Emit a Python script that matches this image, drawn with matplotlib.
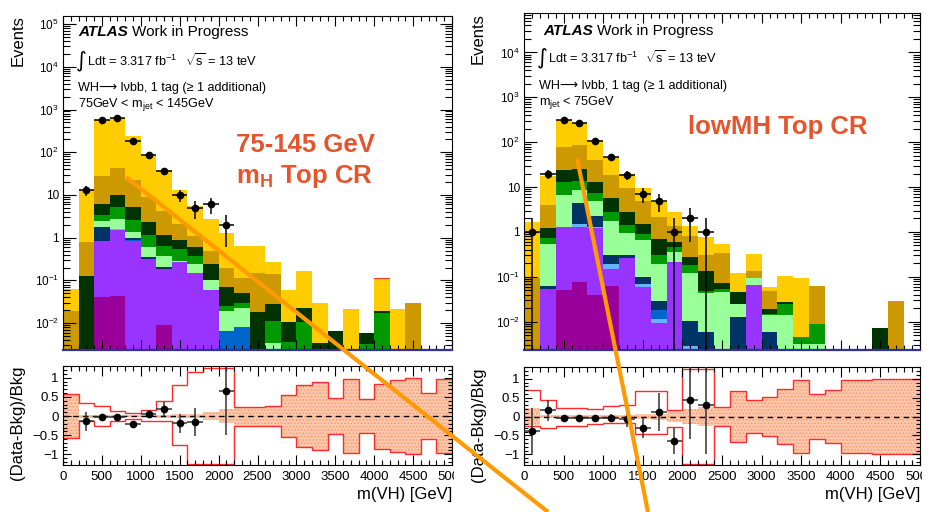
import numpy as np
import matplotlib
matplotlib.use("Agg")
import matplotlib.pyplot as plt
from matplotlib.lines import Line2D
from matplotlib.ticker import FixedLocator, FixedFormatter, LogLocator, MultipleLocator, NullFormatter
from matplotlib.transforms import Bbox, TransformedBbox

plt.rcParams['font.family'] = ['Liberation Sans', 'DejaVu Sans']
plt.rcParams['mathtext.fontset'] = 'custom'
plt.rcParams['mathtext.rm'] = 'Liberation Sans'
plt.rcParams['mathtext.it'] = 'Liberation Sans:italic'
plt.rcParams['mathtext.bf'] = 'Liberation Sans:bold'
plt.rcParams['mathtext.default'] = 'regular'
plt.rcParams['hatch.linewidth'] = 0.6

W, H = 932, 512

edges = np.arange(0, 5001, 200)
centers = edges[:-1] + 100

# stack order, bottom -> top
colors = ['#990099', '#9933ff', '#66b3ff', '#0066cc', '#003366', '#99ff99',
          '#009900', '#003300', '#cc9900', '#ffcc00', '#ff3333']

# ---- left: 75GeV < mjet < 145GeV ----
L_mag = [0, 0, 0.041, 0.043, 0, 0, 0.009, 0, 0, 0, 0, 0, 0, 0, 0, 0, 0, 0, 0, 0, 0, 0, 0, 0, 0]
L_pur = [0, 0, 0.80, 1.48, 0.84, 0.32, 0.171, 0.27, 0.15, 0.06, 0, 0, 0, 0, 0, 0, 0, 0, 0, 0, 0, 0, 0, 0, 0]
L_lblu = [0, 0, 0, 0.04, 0, 0, 0, 0, 0, 0, 0, 0, 0, 0, 0, 0, 0, 0, 0, 0, 0, 0, 0, 0, 0]
L_blue = [0, 0, 0, 0, 0.06, 0, 0, 0, 0, 0, 0.0066, 0.0079, 0, 0, 0, 0, 0, 0, 0, 0, 0, 0, 0, 0, 0]
L_navy = [0, 0, 0.95, 0.04, 0.1, 0.03, 0.03, 0, 0, 0, 0, 0, 0, 0, 0, 0, 0, 0, 0, 0, 0, 0, 0, 0, 0]
L_lgrn = [0, 0, 0.71, 1.1, 0.37, 0.26, 0.16, 0.02, 0.09, 0.04, 0.0124, 0.0141, 0, 0.0035, 0, 0, 0, 0, 0, 0, 0, 0, 0, 0, 0]
L_grn = [0, 0, 0.9, 2.4, 1.2, 0.53, 0.26, 0.26, 0.13, 0, 0.006, 0.008, 0, 0.0078, 0.0037, 0.0107, 0, 0, 0, 0.0033, 0.0169, 0, 0, 0, 0]
L_dgrn = [0, 0.126, 2.9, 4.9, 2.73, 1.13, 0.51, 0.32, 0.24, 0.14, 0.045, 0.022, 0.018, 0.0167, 0.007, 0.0113, 0.0034, 0.0066, 0, 0.0027, 0.0018, 0, 0, 0, 0]
L_stop = [0.019, 0.674, 21.3, 32, 17.1, 6.83, 3.11, 1.23, 0.46, 0.24, 0.13, 0.064, 0.128, 0.11, 0, 0, 0, 0, 0, 0, 0, 0, 0.029, 0, 0]
L_ttbar = [0.043, 12.7, 528, 603, 212.6, 75.9, 33.75, 10.9, 4.43, 2.22, 1.09, 0.514, 0.504, 0.132, 0.0493, 0.143, 0.0266, 0, 0.021, 0, 0.0913, 0.021, 0, 0, 0]
L_red = [0, 0, 0, 0, 0, 0, 0, 0, 0, 0, 0, 0, 0, 0, 0, 0, 0, 0, 0, 0, 0.006, 0, 0, 0, 0]

L_data = [0, 13, 560, 640, 183, 86, 37, 10, 5, 6, 2, 0, 0, 0, 0, 0, 0, 0, 0, 0, 0, 0, 0, 0, 0]
L_derr = [0, 3.6, 24, 25, 13.5, 9.3, 6.1, 3.2, 2.2, 2.4, 1.4, 0, 0, 0, 0, 0, 0, 0, 0, 0, 0, 0, 0, 0, 0]

L_ratio = [np.nan, -0.14, -0.03, -0.03, -0.21, 0.05, 0.18, -0.19, -0.16, np.nan, 0.65] + [np.nan] * 14
L_rerr = [0, 0.24, 0.04, 0.04, 0.06, 0.11, 0.19, 0.24, 0.37, 0, 1.15] + [0] * 14
L_band = [0.58, 0.04, 0.02, 0.02, 0.03, 0.03, 0.04, 0.05, 0.06, 0.11, 0.18, 0.25, 0.25, 0.27,
          0.54, 0.80, 0.89, 0.46, 0.96, 0.44, 0.85, 0.94, 1.0, 0.61, 0.97]
L_up = [0.58, 0.33, 0.27, 0.14, 0.09, 0.16, 0.40, 0.80, 1.15, 1.26, 1.26, 0.25, 0.25, 0.27,
        0.54, 0.80, 0.89, 0.46, 0.96, 0.44, 0.85, 0.94, 1.0, 0.61, 0.97]
L_dn = [-0.58, -0.14, -0.25, -0.12, -0.08, -0.14, -0.14, -0.75, -1.25, -1.25, -1.25, -0.25, -0.25, -0.27,
        -0.54, -0.80, -0.89, -0.46, -0.96, -0.44, -0.85, -0.94, -1.0, -0.61, -0.97]

# ---- right: mjet < 75GeV (lowMH) ----
R_mag = [0, 0, 0.051, 0.075, 0.04, 0.063, 0, 0, 0, 0, 0, 0, 0, 0, 0, 0, 0, 0, 0, 0, 0, 0, 0, 0, 0]
R_pur = [0, 0.054, 1.22, 1.195, 1.16, 0.087, 0.26, 0.06, 0.0096, 0.21, 0, 0, 0, 0, 0.066, 0, 0, 0, 0, 0, 0, 0, 0, 0, 0]
R_lblu = [0, 0, 0, 0.23, 0.1, 0.04, 0, 0.011, 0.0019, 0, 0.0029, 0, 0, 0, 0, 0, 0, 0, 0, 0, 0, 0, 0, 0, 0]
R_blue = [0, 0, 0, 0, 0, 0, 0, 0, 0.0065, 0, 0, 0, 0, 0, 0, 0, 0, 0, 0, 0, 0, 0, 0, 0, 0]
R_navy = [0, 0.007, 0, 2.9, 1.0, 0.11, 0.05, 0.029, 0.011, 0, 0.0076, 0.0058, 0, 0.0125, 0, 0.0058, 0, 0, 0, 0, 0, 0, 0, 0, 0]
R_lgrn = [0, 0.489, 5.53, 4.3, 2.7, 1.5, 0.62, 0.57, 0.161, 0.14, 0.11, 0.038, 0.047, 0.0125, 0.027, 0.0082, 0.0144, 0.0032, 0.0032, 0, 0, 0, 0, 0, 0]
R_grn = [0, 0.18, 6.5, 5.3, 2.3, 0.95, 0.53, 0.24, 0.11, 0.11, 0.06, 0.005, 0.008, 0, 0, 0.001, 0.0106, 0.0013, 0.0059, 0, 0, 0, 0, 0, 0]
R_dgrn = [0, 0.52, 10.2, 10.7, 6.0, 2.95, 1.3, 0.59, 0.4, 0.13, 0.09, 0.088, 0.018, 0.022, 0, 0.004, 0.002, 0, 0, 0, 0, 0, 0.0072, 0, 0]
R_stop = [0.095, 2.75, 54.5, 60.3, 27.7, 12.5, 6.84, 3.5, 1.5, 0.75, 0.56, 0.163, 0.267, 0, 0.044, 0.03, 0, 0, 0.0519, 0, 0, 0, 0, 0.029, 0]
R_ttbar = [1.555, 13.3, 239, 187, 69, 28.8, 10.4, 4.6, 2.4, 1.51, 0.56, 0.46, 0.2, 0.075, 0.183, 0.009, 0.08, 0.0905, 0, 0, 0, 0, 0, 0, 0]
R_red = [0] * 25

R_data = [1, 20, 317, 272, 106, 47, 19, 7, 5, 1, 2, 1, 0, 0, 0, 0, 0, 0, 0, 0, 0, 0, 0, 0, 0]
R_derr = [1, 4.5, 17.8, 16.5, 10.3, 6.9, 4.4, 2.6, 2.2, 1, 1.4, 1, 0, 0, 0, 0, 0, 0, 0, 0, 0, 0, 0, 0, 0]

R_ratio = [-0.38, 0.165, -0.03, -0.04, -0.04, -0.03, -0.06, -0.3, 0.11, -0.64, 0.44, 0.3] + [np.nan] * 13
R_rerr = [0.6, 0.28, 0.05, 0.05, 0.07, 0.1, 0.22, 0.27, 0.5, 0.35, 1.02, 1.3] + [0] * 13
R_band = [0.22, 0.04, 0.03, 0.03, 0.04, 0.04, 0.05, 0.06, 0.08, 0.15, 0.2, 0.24, 0.25, 0.67,
          0.44, 0.51, 0.73, 0.96, 0.6, 0.69, 0.97, 0.97, 0.99, 0.99, 0.99]
R_up = [0.7, 0.44, 0.22, 0.22, 0.2, 0.27, 0.3, 0.68, 0.68, 0.18, 1.26, 1.26, 0.25, 0.67,
        0.44, 0.51, 0.73, 0.96, 0.6, 0.69, 0.97, 0.97, 0.99, 0.99, 0.99]
R_dn = [-0.25, -0.3, -0.25, -0.25, -0.2, -0.17, -0.17, -0.47, -0.47, -0.27, -1.25, -1.25, -0.25, -0.67,
        -0.44, -0.51, -0.73, -0.96, -0.6, -0.69, -0.97, -0.97, -0.99, -0.99, -0.99]

L_stack = [L_mag, L_pur, L_lblu, L_blue, L_navy, L_lgrn, L_grn, L_dgrn, L_stop, L_ttbar, L_red]
R_stack = [R_mag, R_pur, R_lblu, R_blue, R_navy, R_lgrn, R_grn, R_dgrn, R_stop, R_ttbar, R_red]


fig = plt.figure(figsize=(W / 100, H / 100), dpi=100)


def px(x, y):
    return x / W, 1 - y / H


def axes_px(x0, y0, x1, y1):
    return fig.add_axes([x0 / W, 1 - y1 / H, (x1 - x0) / W, (y1 - y0) / H])


def loglab(k):
    if k == 0:
        return '1'
    if k == 1:
        return '10'
    return r'$10^{%d}$' % k


def draw_main(ax, stack, data, derr, ymax):
    bottom = np.zeros(len(centers))
    for vals, col in zip(stack, colors):
        top = bottom + np.asarray(vals, float)
        ax.stairs(np.maximum(top, 1e-6), edges, baseline=np.maximum(bottom, 1e-6),
                  fill=True, color=col, lw=0)
        bottom = top
    d = np.asarray(data, float)
    e = np.asarray(derr, float)
    m = d > 0
    lo = np.minimum(e, d - 1e-6)
    ax.errorbar(centers[m], d[m], yerr=[lo[m], e[m]], xerr=100, fmt='o', color='k',
                ms=4.5, lw=1.1, capsize=0, zorder=5)
    ax.set_xlim(0, 5000)
    ax.set_yscale('log')
    ax.set_ylim(10 ** -2.63, ymax)
    ax.xaxis.set_major_locator(MultipleLocator(500))
    ax.xaxis.set_minor_locator(MultipleLocator(100))
    dec = [k for k in range(-2, 6) if 10 ** k < ymax]
    ax.yaxis.set_major_locator(FixedLocator([10.0 ** k for k in dec]))
    ax.yaxis.set_major_formatter(FixedFormatter([loglab(k) for k in dec]))
    ax.yaxis.set_minor_locator(LogLocator(10, subs=np.arange(2, 10), numticks=30))
    ax.yaxis.set_minor_formatter(NullFormatter())
    ax.tick_params(which='both', direction='in', top=True, right=True, width=0.8, labelbottom=False)
    ax.tick_params(axis='y', which='major', length=9, labelsize=8.5, pad=3)
    ax.tick_params(axis='y', which='minor', length=5)
    ax.tick_params(axis='x', which='major', length=7)
    ax.tick_params(axis='x', which='minor', length=3.5)
    ax.spines['bottom'].set_color('#30309a')
    ax.spines['bottom'].set_linewidth(1.6)


def draw_ratio(ax, band, up, dn, ratio, rerr, clipx):
    band = np.asarray(band, float)
    ax.stairs(band, edges, baseline=-band, fill=True, facecolor='#fdc7ab',
              edgecolor='#f7956a', hatch='.....', lw=0)
    ax.stairs(up, edges, baseline=None, color='#ff2a2a', lw=1)
    ax.stairs(dn, edges, baseline=None, color='#ff2a2a', lw=1)
    ax.axhline(0, color='k', ls=(0, (4, 3)), lw=1)
    r = np.asarray(ratio, float)
    m = ~np.isnan(r)
    ax.errorbar(centers[m], r[m], yerr=np.asarray(rerr)[m], xerr=100, fmt='o', color='k',
                ecolor='#333333', ms=4.5, lw=1.1, capsize=0, zorder=5)
    ax.set_xlim(0, 5000)
    ax.set_ylim(-1.28, 1.31)
    xt = np.arange(0, 5001, 500)
    ax.xaxis.set_major_locator(FixedLocator(xt))
    ax.xaxis.set_major_formatter(FixedFormatter([str(v) for v in xt[:-1]] + ['']))
    ax.xaxis.set_minor_locator(MultipleLocator(100))
    ax.yaxis.set_major_locator(FixedLocator([-1, -0.5, 0, 0.5, 1]))
    ax.yaxis.set_major_formatter(FixedFormatter(['\u22121', '\u22120.5', '0', '0.5', '1']))
    ax.yaxis.set_minor_locator(MultipleLocator(0.1))
    ax.tick_params(which='both', direction='in', top=True, right=True, width=0.8, labelsize=9.5)
    ax.tick_params(axis='x', which='major', length=7, pad=4)
    ax.tick_params(axis='x', which='minor', length=3.5)
    ax.tick_params(axis='y', which='major', length=6, pad=3)
    ax.tick_params(axis='y', which='minor', length=3)
    # last label is cut by the pad edge, as in the original
    t = ax.annotate('5000', xy=(1, 0), xycoords='axes fraction', xytext=(0, -4),
                    textcoords='offset points', ha='center', va='top', fontsize=9.5)
    t.set_clip_box(TransformedBbox(Bbox([[0, 0], [clipx / W, 1]]), fig.transFigure))
    t.set_clip_on(True)


axL = axes_px(63, 16, 452, 350)
rL = axes_px(63, 366, 452, 465)
axR = axes_px(524, 13, 920, 350)
rR = axes_px(524, 367, 920, 465)

draw_main(axL, L_stack, L_data, L_derr, 10 ** 5.19)
draw_main(axR, R_stack, R_data, R_derr, 10 ** 4.88)
draw_ratio(rL, L_band, L_up, L_dn, L_ratio, L_rerr, 454)
draw_ratio(rR, R_band, R_up, R_dn, R_ratio, R_rerr, 922)

# axis titles
for x, ytop in [(18.5, 15), (478, 13)]:
    fig.text(*px(x, ytop), 'Events', rotation=90, ha='center', va='top', fontsize=12)
for x, ytop in [(18, 366), (478, 367)]:
    fig.text(*px(x, ytop), '(Data-Bkg)/Bkg', rotation=90, ha='center', va='top', fontsize=12)
for x, y in [(452, 495), (920, 494)]:
    fig.text(*px(x, y), 'm(VH) [GeV]', ha='right', va='center', fontsize=12)

# ATLAS labels
wh = 'WH\u27f6 l\u03bdbb, 1 tag (\u2265 1 additional)'
fig.text(*px(78, 36), 'ATLAS', fontsize=11, fontweight='bold', style='italic', va='baseline')
fig.text(*px(132, 36), 'Work in Progress', fontsize=11, va='baseline')
fig.text(*px(76, 61), '\u222b', fontsize=15, va='center', family='DejaVu Sans')
fig.text(*px(87, 66), r'Ldt = 3.317 fb$^{-1}$', fontsize=9.2, va='baseline')
fig.text(*px(185, 66), r'$\sqrt{s}$ = 13 teV', fontsize=9.2, va='baseline')
fig.text(*px(78, 91.5), wh, fontsize=9.1, va='baseline')
fig.text(*px(78, 107), r'75GeV < m$_{jet}$ < 145GeV', fontsize=9.1, va='baseline')

fig.text(*px(543, 35), 'ATLAS', fontsize=11, fontweight='bold', style='italic', va='baseline')
fig.text(*px(597, 35), 'Work in Progress', fontsize=11, va='baseline')
fig.text(*px(537, 58), '\u222b', fontsize=15, va='center', family='DejaVu Sans')
fig.text(*px(548, 63), r'Ldt = 3.317 fb$^{-1}$', fontsize=9.2, va='baseline')
fig.text(*px(645, 63), r'$\sqrt{s}$ = 13 teV', fontsize=9.2, va='baseline')
fig.text(*px(539, 89), wh, fontsize=9.1, va='baseline')
fig.text(*px(539, 105), r'm$_{jet}$ < 75GeV', fontsize=9.1, va='baseline')

# orange annotations
orange_txt = '#e5542a'
fig.text(*px(236, 152), '75-145 GeV', fontsize=18.5, fontweight='bold', color=orange_txt, va='baseline')
fig.text(*px(236, 183), r'm$_{H}$ Top CR', fontsize=18.5, fontweight='bold', color=orange_txt, va='baseline')
fig.text(*px(688, 134), 'lowMH Top CR', fontsize=18.5, fontweight='bold', color=orange_txt, va='baseline')

for (x0, y0), (x1, y1) in [((126, 177), (548, 512)), ((577, 158), (648, 512))]:
    fig.add_artist(Line2D([x0 / W, x1 / W], [1 - y0 / H, 1 - y1 / H], transform=fig.transFigure,
                          color='#ff9a00', lw=3, solid_capstyle='butt', zorder=20))

fig.savefig('out.png', dpi=100)
